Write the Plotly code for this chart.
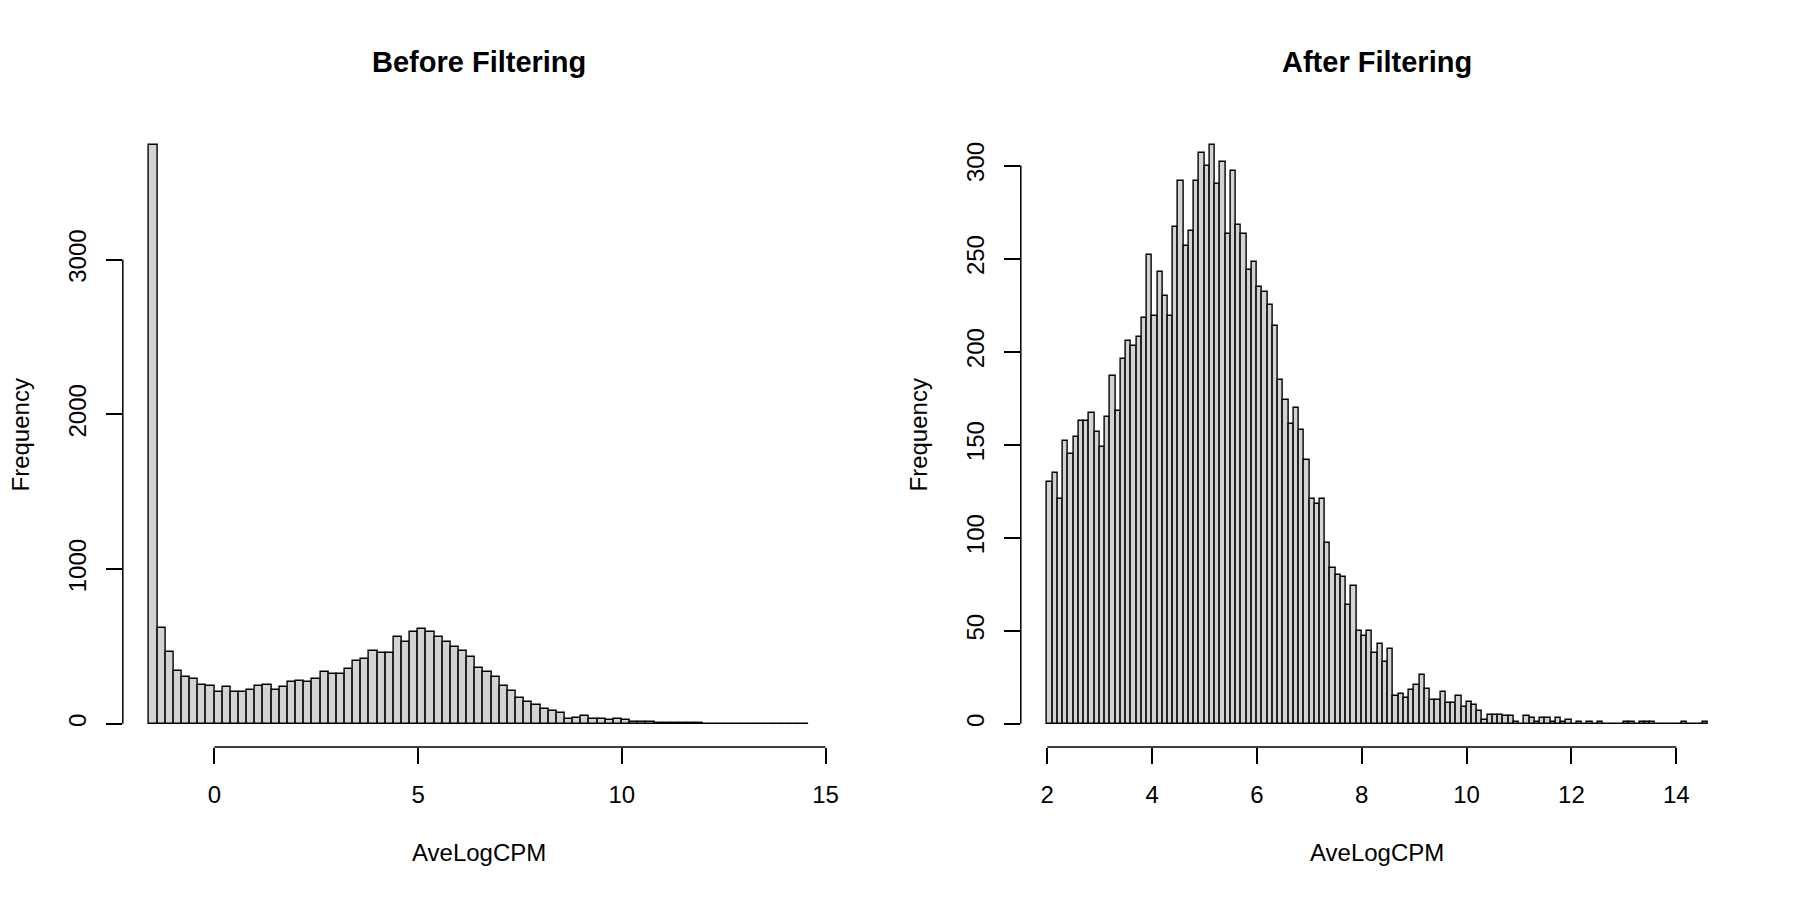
import numpy as np
import plotly.graph_objects as go

# histogram of AveLogCPM before filtering, bins of 0.2 starting at -1.6
before_start = -1.6
before_width = 0.2
before_counts = [
    3740, 621, 463, 341, 302, 287, 254, 246, 203, 241,
    203, 209, 222, 246, 248, 222, 235, 269, 280, 273,
    293, 336, 319, 323, 355, 403, 416, 474, 459, 459,
    562, 532, 591, 612, 591, 562, 532, 496, 474, 430,
    358, 334, 302, 246, 211, 165, 144, 125, 99, 84,
    71, 30, 35, 49, 34, 34, 26, 30, 23, 9,
    10, 9, 5, 4, 3, 6, 4, 3, 1, 1,
    1, 0, 0, 2, 1, 2, 0, 0, 1, 0,
    1,
]

# histogram after filtering, bins of 0.1 starting at 2.0
after_start = 2.0
after_width = 0.1
after_counts = [
    130, 135, 121, 152, 145, 154, 163, 163, 167, 157,
    149, 165, 187, 168, 196, 206, 203, 208, 218, 252,
    219, 243, 230, 219, 267, 292, 257, 265, 292, 307,
    300, 311, 290, 302, 263, 297, 268, 263, 244, 248,
    235, 232, 225, 214, 185, 174, 161, 170, 158, 142,
    121, 118, 121, 97, 84, 80, 79, 64, 74, 50,
    47, 50, 38, 43, 33, 40, 15, 16, 14, 18,
    21, 26, 19, 13, 13, 17, 11, 11, 15, 9,
    12, 10, 7, 2, 5, 5, 5, 4, 4, 1,
    0, 4, 3, 1, 3, 3, 1, 3, 1, 2,
    0, 1, 0, 1, 0, 1, 0, 0, 0, 0,
    1, 1, 0, 1, 1, 1, 0, 0, 0, 0,
    0, 1, 0, 0, 0, 1,
]

titles = ["Before Filtering", "After Filtering"]
x_label = "AveLogCPM"
y_label = "Frequency"
before_xticks = [0, 5, 10, 15]
before_yticks = [0, 1000, 2000, 3000]
after_xticks = [2, 4, 6, 8, 10, 12, 14]
after_yticks = [0, 50, 100, 150, 200, 250, 300]

W, H = 1800, 900
OFF = 8  # page body margin
FONT = "Liberation Sans, Arial, sans-serif"
# plot regions in pixels (left, right), top / bottom
panels = [(123 - OFF, 837 - OFF), (1022.5 - OFF, 1737 - OFF)]
top_px, bot_px = 122 - OFF, 747 - OFF

fig = go.Figure()

hists = [
    (before_start, before_width, before_counts, before_xticks, before_yticks),
    (after_start, after_width, after_counts, after_xticks, after_yticks),
]

for i, (start, width, counts, xt, yt) in enumerate(hists):
    n = len(counts)
    centers = start + width * (np.arange(n) + 0.5)
    xs = "x" if i == 0 else "x2"
    ys = "y" if i == 0 else "y2"
    fig.add_trace(go.Bar(
        x=centers, y=counts, width=width,
        marker=dict(color="#D3D3D3", line=dict(color="black", width=1.4)),
        xaxis=xs, yaxis=ys, showlegend=False, hoverinfo="x+y",
    ))

    lo, hi = start, start + width * n
    pad = 0.04 * (hi - lo)
    ymax = max(counts)
    ypad = 0.04 * ymax
    l, r = panels[i]
    ax = dict(
        domain=[l / W, r / W], range=[lo - pad, hi + pad],
        tickmode="array", tickvals=xt, ticktext=[str(v) for v in xt],
        ticks="outside", ticklen=16, tickwidth=1.5, tickcolor="black",
        showline=False, showgrid=False, zeroline=False,
        tickfont=dict(family=FONT, size=24, color="black"),
        ticklabelstandoff=10, fixedrange=True,
    )
    ay = dict(
        domain=[1 - bot_px / H, 1 - top_px / H], range=[-ypad, ymax + ypad],
        tickmode="array", tickvals=yt, ticktext=[str(v) for v in yt],
        ticks="outside", ticklen=16, tickwidth=1.5, tickcolor="black",
        tickangle=-90,
        showline=False, showgrid=False, zeroline=False,
        tickfont=dict(family=FONT, size=24, color="black"),
        ticklabelstandoff=10, fixedrange=True,
    )
    if i == 0:
        fig.update_layout(xaxis=dict(ax, anchor="y"), yaxis=dict(ay, anchor="x"))
    else:
        fig.update_layout(xaxis2=dict(ax, anchor="y2"), yaxis2=dict(ay, anchor="x2"))

    xref = "x" if i == 0 else "x2"
    yref = "y" if i == 0 else "y2"
    # R style axis lines spanning first to last tick only
    fig.add_shape(type="line", xref=xref, yref=yref + " domain",
                  x0=xt[0], x1=xt[-1], y0=0, y1=0,
                  line=dict(color="black", width=1.5))
    fig.add_shape(type="line", xref=xref + " domain", yref=yref,
                  x0=0, x1=0, y0=yt[0], y1=yt[-1],
                  line=dict(color="black", width=1.5))

    cx = (l + r) / 2 / W
    fig.add_annotation(text="<b>%s</b>" % titles[i], x=cx, y=1 - (62 - OFF) / H,
                       xref="paper", yref="paper", showarrow=False,
                       xanchor="center", yanchor="middle",
                       font=dict(family=FONT, size=29, color="black"))
    fig.add_annotation(text=x_label, x=cx, y=1 - (852 - OFF) / H,
                       xref="paper", yref="paper", showarrow=False,
                       xanchor="center", yanchor="middle",
                       font=dict(family=FONT, size=24, color="black"))
    fig.add_annotation(text=y_label, x=(l - 102) / W, y=1 - (top_px + bot_px) / 2 / H,
                       xref="paper", yref="paper", showarrow=False, textangle=-90,
                       xanchor="center", yanchor="middle",
                       font=dict(family=FONT, size=24, color="black"))

fig.update_layout(
    width=W, height=H,
    margin=dict(l=0, r=0, t=0, b=0),
    paper_bgcolor="white", plot_bgcolor="white",
    bargap=0,
)

fig.write_html("out.html")
